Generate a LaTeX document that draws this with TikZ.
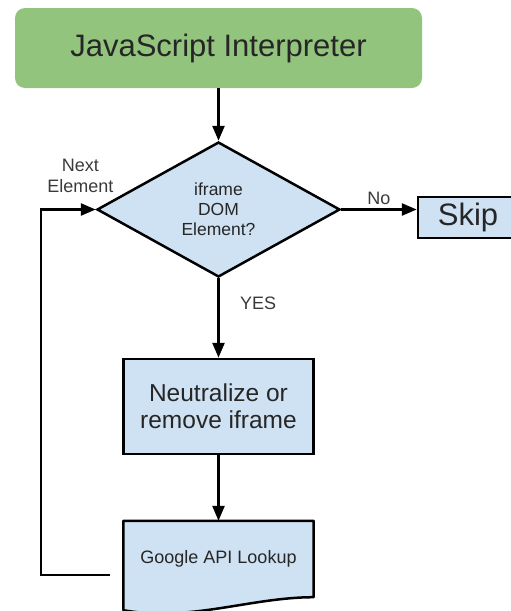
\documentclass[tikz,border=0pt]{standalone}
\usepackage{fontspec}
\setmainfont{Liberation Sans}
\usetikzlibrary{arrows.meta, shapes.geometric, calc, backgrounds}
\definecolor{gdgreen}{HTML}{93C47D}
\definecolor{gdblue}{HTML}{CFE2F3}
\definecolor{gdtext}{HTML}{262626}
\definecolor{gdlabel}{HTML}{3A3A3A}

\begin{document}
\begin{tikzpicture}[x=1pt, y=-1pt,
  startbox/.style={rectangle, fill=gdgreen, rounded corners=10pt, minimum width=407pt, minimum height=80pt, text=gdtext, font=\fontsize{31}{36}\selectfont},
  decision/.style={diamond, draw=black, fill=gdblue, line width=2.5pt, minimum width=243pt, minimum height=135pt, aspect=1.8, inner sep=0pt, align=center, text=gdtext, font=\fontsize{17.5}{20}\selectfont},
  skipbox/.style={rectangle, draw=black, fill=gdblue, line width=2.5pt, minimum width=100pt, minimum height=41pt, text=gdtext, font=\fontsize{31}{36}\selectfont},
  procbox/.style={rectangle, draw=black, fill=gdblue, line width=2.5pt, minimum width=190pt, minimum height=95pt, align=center, text=gdtext, font=\fontsize{24.5}{27}\selectfont},
  docbox/.style={rectangle, minimum width=190pt, minimum height=76pt, text=gdtext, font=\fontsize{18}{22}\selectfont},
  docedge/.style={draw=black, fill=gdblue, line width=2.5pt, line join=round},
  lbl/.style={align=center, text=gdlabel, font=\fontsize{18}{21}\selectfont},
  arr/.style={-{Triangle[length=15pt, width=12pt]}, line width=2.5pt, black},
]
  \useasboundingbox (0,0) rectangle (511,611);

  \node[startbox] (interp) at (218.5, 48) {JavaScript Interpreter};
  \node[decision] (check) at (218.5, 209.5) {iframe\\DOM\\Element?};
  \node[skipbox] (skip) at (468, 217.5) {Skip};
  \node[procbox] (neut) at (218.5, 406.5) {Neutralize or\\remove iframe};
  \node[docbox] (api) at (218.5, 559) {Google API Lookup};

  % document outline with wavy bottom
  \begin{scope}[on background layer]
    \draw[docedge] (api.south east) -- (api.north east) -- (api.north west)
      -- ($(api.south west)+(0,13)$)
      .. controls ($(api.south west)+(67,25)$) and ($(api.south east)+(-63,0)$) .. (api.south east) -- cycle;
  \end{scope}

  \coordinate (loopout) at ($(api.west)+(-13,16)$);
  \coordinate (loopleft) at (41, 575);

  \draw[arr] (interp) -- (check);
  \draw[arr] (check.east) -- node[above, lbl] {No} (check.east -| skip.west);
  \draw[arr] (check.south) -- node[pos=0.32, right, xshift=17pt, lbl] {YES} (neut.north);
  \draw[arr] (neut) -- (api);
  \draw[arr] (loopout) -- (loopleft) |- node[pos=0.86, above=12pt, lbl] {Next\\Element} (check.west);
\end{tikzpicture}
\end{document}
